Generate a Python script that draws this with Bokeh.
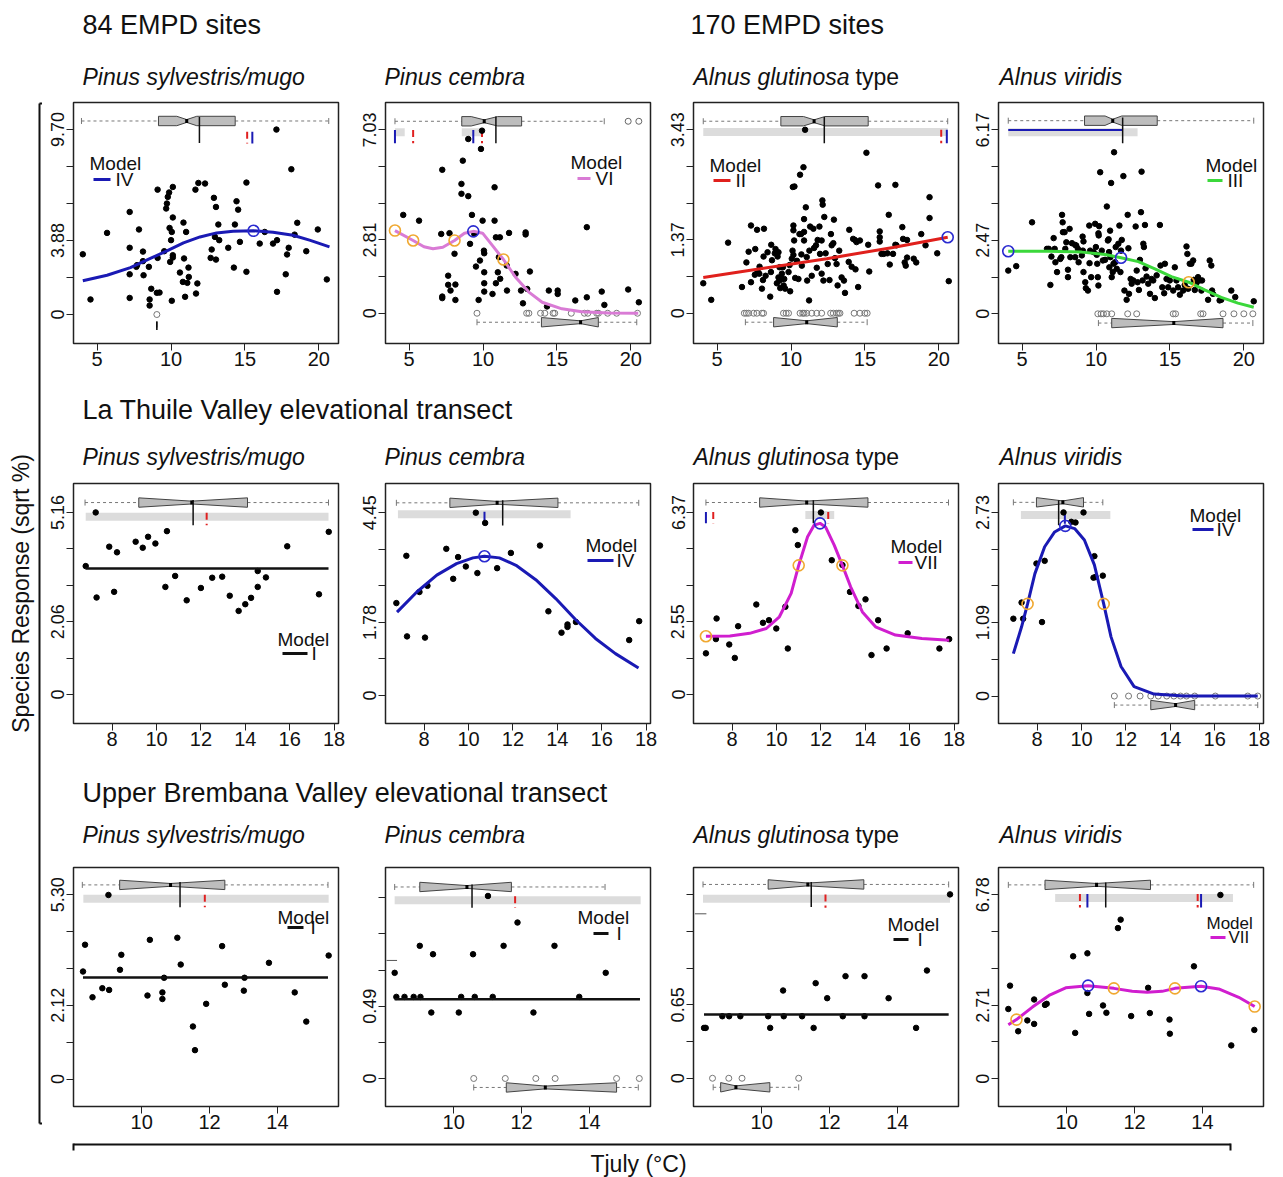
import math
from bokeh.plotting import figure
from bokeh.layouts import row, column
from bokeh.models import Range1d, FixedTicker
from bokeh.core.properties import value
from bokeh.embed import file_html
from bokeh.resources import INLINE

FONT = "Liberation Sans"

# ------------------------------------------------------------------ texts
SECTION_TITLES = ["84 EMPD sites", "170 EMPD sites",
                  "La Thuile Valley elevational transect",
                  "Upper Brembana Valley elevational transect"]
TAXA = ["Pinus sylvestris/mugo", "Pinus cembra", "Alnus glutinosa", "Alnus viridis"]
TAXON_SUFFIX = " type"
Y_TITLE = "Species Response (sqrt %)"
X_TITLE = "Tjuly (\u00b0C)"
MODELS = ["IV", "VI", "II", "III", "I", "IV", "VII", "IV", "I", "I", "I", "VII"]

# ------------------------------------------------------------------ axes
ROW_XRANGE = [(3.40, 21.33), (6.26, 18.20), (7.99, 15.80)]
ROW_XTICKS = [[5, 10, 15, 20], [8, 10, 12, 14, 16, 18], [10, 12, 14]]
Y_RANGES = [(-1.52, 11.12), (-1.16, 8.08), (-0.566, 3.94), (-0.996, 7.09),
            (-0.82, 5.98), (-0.68, 5.16), (-1.015, 7.385), (-0.408, 3.16),
            (-0.79, 6.08), (-0.19, 1.43), (-0.25, 1.866), (-1.02, 7.78)]
Y_TICKS = [[0, 1.94, 3.88, 5.82, 7.76, 9.70],
           [0, 1.405, 2.81, 4.215, 5.62, 7.03],
           [0, 0.686, 1.372, 2.058, 2.744, 3.43],
           [0, 1.234, 2.468, 3.702, 4.936, 6.17],
           [0, 1.032, 2.064, 3.096, 4.128, 5.16],
           [0, 0.89, 1.78, 2.67, 3.56, 4.45],
           [0, 1.274, 2.548, 3.822, 5.096, 6.37],
           [0, 0.546, 1.092, 1.638, 2.184, 2.73],
           [0, 1.06, 2.12, 3.18, 4.24, 5.30],
           [0, 0.245, 0.49, 0.735, 0.98, 1.225],
           [0, 0.325, 0.65, 0.975, 1.30, 1.625],
           [0, 1.356, 2.712, 4.068, 5.424, 6.78]]
Y_TICKLABELS = [["0", "", "3.88", "", "", "9.70"],
                ["0", "", "2.81", "", "", "7.03"],
                ["0", "", "1.37", "", "", "3.43"],
                ["0", "", "2.47", "", "", "6.17"],
                ["0", "", "2.06", "", "", "5.16"],
                ["0", "", "1.78", "", "", "4.45"],
                ["0", "", "2.55", "", "", "6.37"],
                ["0", "", "1.09", "", "", "2.73"],
                ["0", "", "2.12", "", "", "5.30"],
                ["0", "", "0.49", "", "", ""],
                ["0", "", "0.65", "", "", ""],
                ["0", "", "2.71", "", "", "6.78"]]

# ------------------------------------------------------------------ observations (Tjuly, sqrt %)
P1_PTS = [(4.03,3.16),(4.55,0.79),(5.67,4.28),(7.2,5.38),(7.2,3.5),(7.2,2.11),(7.2,0.87),(7.83,4.46),(7.7,2.59),(7.65,2.5),
          (8.1,3.3),(8.1,2.8),(8.14,2.06),(8.5,2.5),(8.55,0.79),(8.55,0.47),(8.66,1.35),(9.09,6.55),(9.09,2.97),(9.04,1.14),
          (9.22,1.15),(9.54,3.32),(9.67,5.56),(9.72,5.82),(9.78,6.17),(9.87,6.40),(9.9,4.54),(9.94,2.76),(10.0,3.9),(10.05,4.33),
          (10.12,6.69),(10.12,5.09),(10.12,3.11),(10.12,2.99),(10.05,0.72),(10.84,4.82),(10.88,2.94),(10.6,2.2),(10.8,1.71),(10.95,0.93),
          (11.02,4.33),(11.18,2.46),(11.2,1.97),(11.1,1.66),(11.65,6.55),(11.85,6.9),(11.78,1.63),(11.69,1.1),(12.3,6.87),(12.9,6.12),
          (13.04,5.64),(12.75,3.41),(12.68,2.97),(13.04,2.88),(12.97,4.07),(13.2,4.72),(13.26,3.9),(13.87,3.5),(14.25,2.46),(14.32,4.72),
          (14.43,5.94),(14.54,5.5),(14.66,3.81),(15.1,6.92),(15.1,2.24),(16.0,3.72),(16.34,4.33),(16.9,3.72),(17.13,9.70),(17.17,3.9),
          (17.17,1.19),(17.76,2.11),(17.85,3.15),(17.96,3.5),(18.14,7.62),(18.36,4.19),(18.54,4.81),(19.15,3.32),(19.93,4.46),(20.54,1.84)]
P1_ZEROS = [9.04]
P1_CURVE_X = [4.03, 5.67, 7.25, 8.6, 9.72, 10.84, 11.96, 13.08, 14.2, 15.58, 16.9, 18.25, 19.37, 20.72]
P1_CURVE_Y = [1.77, 2.06, 2.46, 2.94, 3.34, 3.76, 4.07, 4.28, 4.37, 4.39, 4.32, 4.16, 3.9, 3.55]

P2_PTS = [(4.6,3.77),(5.67,3.55),(7.17,3.04),(7.24,5.5),(7.24,0.64),(7.24,0.58),(7.64,1.44),(7.64,1.09),(7.8,0.87),(7.73,3.07),
          (8.07,2.28),(8.13,1.1),(8.13,0.51),(8.63,5.85),(8.54,4.96),(8.54,4.58),(9.0,4.49),(9.0,6.68),(9.12,2.66),(9.25,3.77),
          (9.41,3.04),(9.52,1.79),(9.7,0.51),(9.79,2.02),(9.86,6.3),(9.93,7.0),(9.97,3.55),(10.06,2.4),(10.08,2.3),(10.08,1.57),
          (10.08,1.15),(10.08,0.83),(10.64,0.74),(10.78,4.83),(10.78,3.55),(10.87,2.91),(10.87,1.15),(11.0,1.57),(11.07,2.15),(11.14,2.91),
          (11.16,1.32),(11.6,1.83),(11.76,3.08),(11.62,0.87),(12.2,1.51),(12.57,0.87),(12.7,0.38),(12.88,3.1),(12.88,3.02),(12.99,0.93),
          (13.17,1.6),(14.33,0.26),(14.45,0.87),(15.05,0.87),(15.05,0.74),(16.24,0.49),(17.02,3.3),(17.02,0.61),(18.03,0.83),(18.21,0.32),
          (19.82,0.91),(20.54,0.42)]
P2_ZEROS = [9.59, 12.95, 13.1, 13.89, 14.18, 14.74, 14.85, 15.97, 16.86, 17.09, 17.69, 17.81, 18.43, 19.04, 20.45]
P2_TOP_OUTLIERS = [19.82, 20.54]
P2_CURVE_X = [4.04, 5.27, 6.0, 6.61, 7.28, 8.07, 8.74, 9.34, 9.97, 10.64, 11.38, 12.2, 13.1, 14.0, 15.34, 16.68, 18.5, 20.5]
P2_CURVE_Y = [3.17, 2.79, 2.55, 2.47, 2.53, 2.79, 3.07, 3.14, 3.07, 2.59, 2.06, 1.38, 0.81, 0.42, 0.17, 0.06, 0.01, 0.0]

P3_PTS = [(4.06,0.56),(4.6,0.25),(5.74,1.32),(6.68,0.49),(6.98,0.95),(7.13,1.15),(7.29,0.58),(7.29,1.64),(7.58,1.2),(7.7,1.56),
          (7.74,0.78),(7.87,0.87),(7.85,0.74),(8.03,0.46),(8.14,1.06),(8.17,1.58),(8.28,0.7),(8.41,1.14),(8.59,0.31),(8.64,0.77),
          (8.66,1.28),(8.71,0.99),(9.04,0.56),(9.09,1.06),(9.15,1.14),(9.22,0.86),(9.15,0.67),(9.22,0.61),(9.27,0.47),(9.33,0.64),
          (9.38,0.74),(9.45,0.86),(9.6,0.46),(9.54,0.64),(9.83,0.77),(9.9,0.9),(9.94,0.41),(10.05,1.02),(10.1,1.17),(10.16,1.09),
          (10.12,2.36),(10.23,2.37),(10.28,0.66),(10.16,1.64),(10.16,1.55),(10.21,1.36),(10.5,0.64),(10.57,1.48),(10.61,2.59),(10.68,1.48),
          (10.73,0.89),(10.84,2.73),(10.88,1.36),(10.88,1.76),(10.88,1.52),(11.0,1.98),(11.06,1.05),(11.09,0.61),(10.95,3.43),(11.22,0.24),
          (11.24,1.17),(11.29,1.62),(11.51,1.58),(11.56,1.22),(11.69,1.27),(11.74,0.85),(11.8,1.37),(11.92,1.62),(11.96,1.11),(12.07,1.36),
          (12.12,2.11),(12.14,2.03),(12.07,0.74),(12.19,0.61),(12.25,1.8),(12.34,1.12),(12.48,0.92),(12.7,1.48),(12.75,1.27),(12.86,1.31),
          (12.9,1.75),(12.97,1.03),(13.08,0.92),(13.15,0.52),(13.26,1.17),(13.42,0.67),(13.58,0.61),(13.65,0.38),(13.94,1.56),(14.1,0.87),
          (14.2,1.39),(14.32,1.37),(14.36,0.82),(14.43,1.33),(14.54,0.49),(14.66,1.36),(15.1,3.0),(15.22,1.28),(15.29,0.78),(15.89,2.39),
          (16.0,1.53),(16.0,1.42),(16.0,1.34),(16.12,1.11),(16.27,1.11),(16.52,1.12),(16.61,1.84),(16.68,0.91),(16.9,1.11),(17.06,2.4),
          (17.06,1.28),(17.13,1.27),(17.53,1.61),(17.58,1.39),(17.69,0.95),(17.76,0.89),(17.85,1.37),(17.85,1.04),(18.3,1.02),(18.47,0.95),
          (18.81,1.48),(19.1,1.27),(19.37,2.17),(19.37,1.78),(19.89,1.12),(20.67,0.6),(8.9,1.12),(8.95,1.2),(7.55,0.72),(9.5,0.52),
          (10.4,0.98),(11.4,0.7),(12.6,0.62),(13.9,0.96),(8.1,0.62),(10.7,1.1)]
P3_ZEROS = [6.84, 6.98, 7.13, 7.47, 7.69, 8.03, 8.14, 9.49, 9.67, 9.83, 10.61, 10.79, 10.88, 11.06, 11.4, 11.74,
            12.07, 12.68, 12.86, 13.08, 13.2, 13.31, 14.27, 14.66, 14.99, 15.15]
P3_CURVE_X = [4.06, 7.92, 12.41, 16.9, 20.6]
P3_CURVE_Y = [0.67, 0.83, 1.02, 1.23, 1.42]

P4_PTS = [(4.06,1.45),(4.6,1.6),(5.67,3.07),(6.68,2.18),(6.8,2.18),(6.91,0.97),(6.98,1.92),(7.13,2.54),(7.2,2.18),(7.25,1.73),
          (7.36,1.4),(7.58,1.84),(7.65,1.9),(7.7,3.32),(7.74,3.07),(7.76,2.74),(7.87,2.74),(7.92,2.18),(7.99,2.4),(8.1,1.23),
          (8.1,1.48),(8.21,2.85),(8.26,1.9),(8.37,2.37),(8.59,2.31),(8.59,1.9),(8.66,2.29),(8.77,2.18),(8.82,1.73),(9.04,1.96),
          (9.09,2.59),(9.11,2.12),(9.15,2.43),(9.15,1.4),(9.27,1.06),(9.31,0.86),(9.45,0.78),(9.54,2.96),(9.56,1.7),(9.6,2.12),
          (9.67,1.23),(9.83,2.07),(9.94,3.02),(9.99,2.24),(10.05,1.98),(10.08,1.68),(10.12,1.23),(10.16,0.95),(10.16,2.7),(10.18,2.63),
          (10.21,2.94),(10.28,4.75),(10.39,2.12),(10.46,1.79),(10.61,1.81),(10.73,3.6),(10.8,2.46),(10.85,2.5),(10.88,2.07),(10.9,1.56),
          (10.95,2.79),(10.97,1.9),(11.02,4.39),(11.06,1.23),(11.13,1.4),(11.18,1.68),(11.22,5.42),(11.29,1.73),(11.33,2.24),(11.4,1.51),
          (11.51,2.35),(11.58,2.96),(11.65,1.4),(11.69,2.12),(11.74,2.48),(11.85,4.62),(11.92,0.78),(12.07,0.47),(12.14,3.32),(12.19,2.2),
          (12.23,0.67),(12.34,1.17),(12.41,1.01),(12.52,1.12),(12.68,2.93),(12.75,1.45),(12.81,1.06),(12.9,0.8),(12.97,1.81),(13.04,3.41),
          (13.08,4.77),(13.15,1.12),(13.2,2.35),(13.24,2.24),(13.31,2.98),(13.35,1.53),(13.42,1.25),(13.53,1.01),(13.65,0.67),(13.76,1.17),
          (13.87,1.12),(13.98,0.53),(14.1,1.29),(14.32,2.98),(14.36,1.62),(14.48,0.89),(14.61,0.69),(14.66,1.68),(14.77,1.17),(14.88,0.89),
          (14.99,1.12),(15.22,0.78),(15.33,1.56),(15.44,1.12),(15.55,0.89),(15.67,0.64),(15.89,0.78),(16.0,0.97),(16.12,2.26),(16.18,2.01),
          (16.23,0.84),(16.34,1.68),(16.45,1.68),(16.57,1.79),(16.61,1.14),(16.68,0.8),(16.79,1.03),(16.9,1.23),(17.01,1.12),(17.13,0.78),
          (17.17,1.12),(17.58,0.47),(17.69,1.79),(17.8,1.62),(17.85,0.78),(17.91,0.67),(18.36,0.45),(18.47,0.47),(19.15,0.78),(19.42,0.56),
          (20.67,0.42)]
P4_ZEROS = [10.12, 10.34, 10.5, 10.73, 11.06, 12.14, 12.75, 15.22, 15.38, 17.08, 17.24, 18.59, 19.33, 20.0, 20.61]
P4_CURVE_X = [4.06, 6.8, 9.04, 10.61, 11.69, 12.86, 13.98, 15.1, 16.27, 17.35, 18.47, 19.6, 20.67]
P4_CURVE_Y = [2.1, 2.1, 2.07, 1.99, 1.88, 1.75, 1.51, 1.25, 1.06, 0.8, 0.55, 0.36, 0.22]

P5_PTS = [(6.81,3.64),(7.26,5.16),(7.3,2.75),(7.87,4.19),(8.09,2.91),(8.22,4.03),(9.06,4.33),(9.38,4.16),(9.62,4.47),(9.95,4.28),
          (10.4,3.05),(10.47,4.63),(10.84,3.36),(11.36,2.67),(12.0,3.02),(12.51,3.31),(12.96,3.34),(13.3,2.8),(13.7,2.37),(14.0,2.56),
          (14.26,2.74),(14.56,3.05),(14.56,3.5),(14.93,3.32),(15.89,4.2),(17.32,2.84),(17.76,4.61)]
P5_CURVE_X = [6.81, 17.75]
P5_CURVE_Y = [3.57, 3.57]

P6_PTS = [(6.75,2.25),(7.2,3.4),(7.23,1.44),(7.79,2.52),(8.15,2.67),(8.04,1.41),(9.0,3.57),(9.31,2.84),(9.53,3.37),(9.88,3.14),
          (10.4,2.98),(10.33,4.45),(10.75,4.2),(11.29,3.1),(11.91,3.47),(13.22,3.65),(13.6,2.05),(14.19,1.53),(14.46,1.67),(14.46,1.73),
          (14.84,1.79),(17.24,1.35),(17.69,1.81)]
P6_CURVE_X = [6.78, 7.67, 8.57, 9.46, 10.2, 10.72, 11.39, 12.14, 13.03, 13.93, 14.82, 15.72, 16.62, 17.66]
P6_CURVE_Y = [2.03, 2.52, 2.93, 3.21, 3.35, 3.39, 3.35, 3.17, 2.82, 2.36, 1.85, 1.39, 1.02, 0.67]

P7_PTS = [(6.82,1.44),(7.27,1.94),(7.3,2.66),(7.87,1.75),(8.12,1.28),(8.27,2.39),(9.09,3.15),(9.39,2.51),(9.66,2.6),(9.99,2.31),
          (10.4,3.07),(10.51,1.61),(10.85,5.75),(10.96,5.23),(12.0,6.37),(12.49,4.7),(12.97,4.53),(13.31,3.59),(13.69,3.1),(14.01,3.33),
          (14.28,1.38),(14.58,2.6),(14.96,1.61),(15.91,2.14),(17.34,1.61),(17.78,1.94)]
P7_CURVE_X = [6.82, 7.9, 8.79, 9.54, 10.13, 10.66, 11.0, 11.4, 11.7, 11.96, 12.22, 12.6, 12.97, 13.34, 13.87, 14.46, 15.36, 16.55, 17.78]
P7_CURVE_Y = [2.04, 2.05, 2.14, 2.31, 2.72, 3.54, 4.52, 5.52, 5.93, 5.99, 5.85, 5.23, 4.52, 3.77, 2.89, 2.37, 2.08, 1.96, 1.9]

P8_PTS = [(6.93,1.15),(7.3,1.39),(7.37,1.15),(7.97,1.97),(8.22,1.1),(8.34,2.01),(9.19,2.73),(9.54,2.59),(9.73,2.58),(10.09,2.73),
          (10.58,2.08),(10.54,1.76),(10.63,1.77),(10.96,1.79)]
P8_ZEROS = [11.48, 12.12, 12.64, 13.12, 13.46, 13.84, 14.16, 14.46, 14.73, 15.1, 16.03, 17.49, 17.94]
P8_CURVE_X = [6.93, 7.3, 7.57, 7.9, 8.34, 8.79, 9.27, 9.69, 10.13, 10.58, 11.0, 11.33, 11.78, 12.37, 13.27, 14.61, 17.94]
P8_CURVE_Y = [0.63, 1.03, 1.37, 1.82, 2.22, 2.44, 2.53, 2.49, 2.32, 1.95, 1.37, 0.88, 0.44, 0.14, 0.03, 0.0, 0.0]

P9_PTS = [(8.27,3.09),(8.33,3.86),(8.55,2.35),(8.84,2.61),(9.02,5.29),(9.04,2.56),(9.36,3.14),(9.4,3.57),(10.17,2.4),(10.24,4.0),
          (10.61,2.49),(10.61,2.3),(10.66,2.91),(11.05,4.06),(11.15,3.29),(11.51,1.51),(11.57,0.83),(11.9,2.16),(12.37,3.82),(12.45,2.71),
          (13.01,2.54),(13.03,2.91),(13.75,3.34),(14.51,2.49),(14.85,1.65),(15.51,3.55)]
P9_CURVE_X = [8.27, 15.49]
P9_CURVE_Y = [2.92, 2.92]

P10_PTS = [(8.26,0.716),(8.31,0.553),(8.55,0.553),(8.82,0.553),(9.02,0.553),(9.0,0.899),(9.39,0.842),(9.34,0.447),(10.15,0.447),(10.22,0.553),
           (10.57,0.842),(10.62,0.553),(11.01,1.237),(11.15,0.553),(11.47,0.899),(11.88,1.057),(12.35,0.447),(12.97,0.899),(13.7,0.553),(14.48,0.716)]
P10_ZEROS = [10.59, 11.52, 12.42, 12.99, 14.8, 15.47]
P10_CURVE_X = [8.26, 15.49]
P10_CURVE_Y = [0.537, 0.537]

P11_PTS = [(8.3,0.446),(8.35,0.446),(8.84,0.549),(9.04,0.549),(9.37,0.549),(10.19,0.549),(10.25,0.446),(10.63,0.777),(10.65,0.549),(11.19,0.549),
           (11.53,0.446),(11.59,0.842),(11.93,0.709),(12.39,0.549),(12.47,0.904),(13.03,0.904),(13.03,0.549),(13.74,0.709),(14.55,0.446),(14.87,0.954),
           (15.55,1.628)]
P11_ZEROS = [8.55, 9.03, 9.42, 11.09]
P11_CURVE_X = [8.3, 15.51]
P11_CURVE_Y = [0.564, 0.564]

P12_PTS = [(8.28,2.57),(8.33,3.43),(8.57,1.75),(8.84,2.15),(9.04,2.92),(9.04,2.02),(9.36,2.72),(9.41,2.76),(10.19,4.51),(10.25,1.69),
           (10.61,4.62),(10.61,3.16),(10.66,2.39),(11.07,2.7),(11.17,2.43),(11.51,5.55),(11.59,5.86),(11.9,2.31),(12.4,3.35),(12.45,2.42),
           (13.03,2.18),(13.04,1.66),(13.75,4.14),(14.53,6.77),(14.85,1.23),(15.53,1.8)]
P12_CURVE_X = [8.28, 8.52, 8.99, 9.48, 9.97, 10.63, 11.39, 11.93, 12.37, 12.81, 13.19, 13.96, 14.48, 15.07, 15.54]
P12_CURVE_Y = [1.99, 2.18, 2.64, 3.07, 3.35, 3.43, 3.33, 3.22, 3.19, 3.22, 3.33, 3.41, 3.31, 3.0, 2.66]

# boxplots of Tjuly at presence (top) / absence (bottom) sites:
# [lower whisker, Q1, notch low, median, notch high, Q3, upper whisker], level on y axis
TOP_BOX = [[3.94, 9.15, 10.39, 11.06, 11.74, 14.34, 20.67],
           [4.04, 8.56, 9.20, 10.08, 10.98, 12.61, 18.20],
           [4.06, 9.31, 10.84, 11.56, 12.30, 15.22, 20.60],
           [4.06, 9.22, 10.61, 11.13, 11.74, 14.14, 20.67],
           [6.78, 9.20, 9.20, 11.59, 14.10, 14.10, 17.75],
           [6.75, 9.16, 9.16, 11.29, 14.03, 14.03, 17.67],
           [6.82, 9.24, 9.24, 11.36, 14.12, 14.12, 17.75],
           [6.93, 7.97, 7.97, 9.16, 10.09, 10.09, 10.96],
           [8.25, 9.35, 9.35, 10.85, 12.45, 12.45, 15.49],
           [8.26, 9.00, 9.00, 10.39, 11.70, 11.70, 14.46],
           [8.27, 10.19, 10.19, 11.36, 13.01, 13.01, 15.51],
           [8.28, 9.36, 9.36, 10.88, 12.47, 12.47, 15.51]]
TOP_BOX_Y = [10.15, 7.36, 3.59, 6.48, 5.44, 4.69, 6.72, 2.88, 5.58, 1.298, 1.716, 7.14]
BOT_BOX = {0: [9.04, 9.04, 9.04, 9.04, 9.04, 9.04, 9.04],
           1: [9.59, 13.95, 13.95, 16.60, 17.80, 17.80, 20.40],
           2: [6.91, 8.82, 8.82, 11.06, 13.13, 13.13, 15.15],
           3: [10.16, 11.06, 11.06, 15.26, 18.59, 18.59, 20.61],
           7: [11.48, 13.12, 13.12, 14.24, 15.10, 15.10, 17.94],
           9: [10.59, 11.55, 11.55, 12.70, 14.80, 14.80, 15.44],
           10: [8.57, 8.79, 8.79, 9.24, 10.24, 10.24, 11.09]}
BOT_BOX_Y = {0: -0.52, 1: -0.345, 2: -0.168, 3: -0.31, 7: -0.134, 9: -0.061, 10: -0.08}

# optimum line [x, y from, y to]
OPT_LINE = [[11.92, 10.36, 9.0], [10.87, 7.54, 6.52], [12.25, 3.67, 3.18], [11.8, 6.59, 5.72],
            [11.65, 5.51, 4.8], [11.54, 4.75, 4.14], [11.66, 6.8, 5.99], [8.97, 2.91, 2.54],
            [11.13, 5.66, 4.94], [10.54, 1.314, 1.158], [11.46, 1.737, 1.516], [11.15, 7.23, 6.31]]
# light grey bootstrap ranges [x from, x to, y]
BANDS = [[], [[4.04, 4.7, 6.94], [8.56, 9.86, 6.94]], [[4.06, 20.6, 3.39]], [[4.06, 12.81, 6.09]],
         [[6.81, 17.75, 5.04]], [[6.82, 14.6, 4.41]], [[11.3, 12.6, 6.28]], [[7.27, 11.3, 2.69]],
         [[8.28, 15.51, 5.18]], [[8.26, 15.51, 1.208]], [[8.27, 15.55, 1.59]], [[9.66, 14.9, 6.66]]]
# red (bootstrap) / blue (model) optimum ticks: x list, y from, y to
RED_TICKS = [[15.15], [5.27, 9.93], [20.16], [], [12.26], [], [7.15, 12.33], [], [11.86], [11.81], [11.88], [10.39, 13.86]]
BLUE_TICKS = [[15.5], [4.04, 9.34], [20.54], [], [], [10.72], [6.82], [9.25], [], [], [], [10.61, 13.96]]
TICK_SPAN = [(9.58, 8.97), (7.03, 6.52), (3.43, 3.18), (0, 0), (5.15, 4.8), (4.47, 4.26), (6.39, 5.99),
             (2.72, 2.56), (5.3, 4.94), (1.235, 1.158), (1.628, 1.51), (6.8, 6.31)]
P4_BLUE_RANGE = [4.06, 11.8, 6.17]
# fitted optima (blue) and inflection points (orange)
BLUE_PTS = [[(15.58, 4.39)], [(9.34, 3.14)], [(20.6, 1.42)], [(4.06, 2.1), (11.69, 1.88)], [], [(10.72, 3.39)],
            [(11.96, 5.99)], [(9.27, 2.53)], [], [], [], [(10.63, 3.43), (13.96, 3.41)]]
ORANGE_PTS = [[], [(4.04, 3.17), (5.27, 2.79), (8.07, 2.79), (11.38, 2.06)], [], [(16.27, 1.06)], [], [],
              [(6.82, 2.04), (11.0, 4.52), (12.97, 4.52)], [(7.57, 1.37), (11.0, 1.37)], [], [], [],
              [(8.52, 2.18), (11.39, 3.33), (13.19, 3.33), (15.54, 2.66)]]

PTS = [P1_PTS, P2_PTS, P3_PTS, P4_PTS, P5_PTS, P6_PTS, P7_PTS, P8_PTS, P9_PTS, P10_PTS, P11_PTS, P12_PTS]
ZEROS = {0: P1_ZEROS, 1: P2_ZEROS, 2: P3_ZEROS, 3: P4_ZEROS, 7: P8_ZEROS, 9: P10_ZEROS, 10: P11_ZEROS}
CURVES = [(P1_CURVE_X, P1_CURVE_Y), (P2_CURVE_X, P2_CURVE_Y), (P3_CURVE_X, P3_CURVE_Y), (P4_CURVE_X, P4_CURVE_Y),
          (P5_CURVE_X, P5_CURVE_Y), (P6_CURVE_X, P6_CURVE_Y), (P7_CURVE_X, P7_CURVE_Y), (P8_CURVE_X, P8_CURVE_Y),
          (P9_CURVE_X, P9_CURVE_Y), (P10_CURVE_X, P10_CURVE_Y), (P11_CURVE_X, P11_CURVE_Y), (P12_CURVE_X, P12_CURVE_Y)]

# ------------------------------------------------------------------ styles / layout
BLUE, ORCHID, RED, GREEN, MAGENTA, BLACK = "#1a1ab4", "#d97bd5", "#e0201c", "#3bd83b", "#d01ecf", "#111111"
MODEL_COLORS = [BLUE, ORCHID, RED, GREEN, BLACK, BLUE, MAGENTA, BLUE, BLACK, BLACK, BLACK, MAGENTA]
# legend offsets in pixels from frame top-left: Model text (dx, dy), line (dx0, dx1, dy), label dx
LEGEND_PX = [(16, 61, 20, 37, 77, 42), (185, 60, 192, 205, 76, 210), (16, 63, 20, 37, 78, 42),
             (207, 63, 209, 224, 78, 229), (204, 156, 209, 234, 170, 238), (200, 62, 202, 228, 77, 231),
             (197, 63, 205, 219, 79, 221), (191, 32, 194, 215, 46, 218), (204, 50, 214, 230, 60, 237),
             (192, 50, 208, 223, 66, 231), (194, 57, 200, 215, 72, 224), (208, 56, 212, 227, 70, 230)]

W, H = 1283, 1177
LW = 42
COL_W = [308, 310, 308, 315]
COL_BL = [31, 35, 33, 30]
COL_BR = [12, 10, 10, 20]
FW = 265
ROW_FH = [241, 240, 239]
ROW_BT = [5, 6, 6]
ROW_BB = [40, 40, 36]
STRIP_H = [97, 94, 98, 35]
BODY_W = W - LW


def make_panel(i):
    r, c = divmod(i, 4)
    x0, x1 = ROW_XRANGE[r]
    y0, y1 = Y_RANGES[i]
    fh = ROW_FH[r]
    p = figure(width=COL_W[c], height=ROW_BT[r] + fh + ROW_BB[r],
               x_range=Range1d(x0, x1), y_range=Range1d(y0, y1),
               min_border_left=COL_BL[c], min_border_right=COL_BR[c],
               min_border_top=ROW_BT[r], min_border_bottom=ROW_BB[r],
               toolbar_location=None, output_backend="svg")
    p.grid.visible = False
    p.outline_line_color = "#222222"
    p.outline_line_width = 1.5
    p.background_fill_color = "white"
    p.border_fill_color = "white"
    for ax in (p.xaxis[0], p.yaxis[0]):
        ax.axis_line_color = "#222222"
        ax.major_tick_line_color = "#222222"
        ax.major_tick_out = 7
        ax.major_tick_in = 0
        ax.minor_tick_line_color = None
        ax.major_label_text_font = FONT
        ax.major_label_text_color = "#111111"
    p.xaxis.ticker = FixedTicker(ticks=ROW_XTICKS[r])
    p.xaxis.major_label_text_font_size = "20px"
    p.xaxis.major_label_standoff = 1
    p.yaxis.ticker = FixedTicker(ticks=Y_TICKS[i])
    p.yaxis.major_label_overrides = {t: lab for t, lab in zip(Y_TICKS[i], Y_TICKLABELS[i])}
    p.yaxis.major_label_orientation = "vertical"
    p.yaxis.major_label_text_font_size = "18px"
    p.yaxis.major_label_standoff = 2

    ux = (x1 - x0) / FW
    uy = (y1 - y0) / fh
    hh = 4.7 * uy

    # grey bands
    for b in BANDS[i]:
        p.segment(x0=[b[0]], y0=[b[2]], x1=[b[1]], y1=[b[2]], line_color="#dcdcdc", line_width=8)
    if i == 3:
        b = P4_BLUE_RANGE
        p.segment(x0=[b[0]], y0=[b[2]], x1=[b[1]], y1=[b[2]], line_color=BLUE, line_width=2)

    def draw_box(st, yc):
        lo, q1, nlo, med, nhi, q3, hi = st
        cap = 3 * uy
        p.segment(x0=[lo, q3], y0=[yc, yc], x1=[q1, hi], y1=[yc, yc],
                  line_color="#777777", line_width=1, line_dash="3 3")
        p.segment(x0=[lo, hi], y0=[yc - cap, yc - cap], x1=[lo, hi], y1=[yc + cap, yc + cap],
                  line_color="#777777", line_width=1)
        if q3 > q1:
            pinch = hh * 0.3
            xs = [q1, nlo, med, nhi, q3, q3, nhi, med, nlo, q1]
            ys = [yc - hh, yc - hh, yc - pinch, yc - hh, yc - hh, yc + hh, yc + hh, yc + pinch, yc + hh, yc + hh]
            p.patch(xs, ys, fill_color="#bdbdbd", line_color="#444444", line_width=1)
            p.segment(x0=[med], y0=[yc - pinch - 0.6 * uy], x1=[med], y1=[yc + pinch + 0.6 * uy],
                      line_color="black", line_width=3)
        else:
            p.segment(x0=[med], y0=[yc - 1.2 * hh], x1=[med], y1=[yc + 0.6 * hh],
                      line_color="black", line_width=1.5)

    draw_box(TOP_BOX[i], TOP_BOX_Y[i])
    if i in BOT_BOX:
        draw_box(BOT_BOX[i], BOT_BOX_Y[i])
    if i == 1:
        p.scatter(P2_TOP_OUTLIERS, [TOP_BOX_Y[i]] * len(P2_TOP_OUTLIERS), size=6,
                  fill_color=None, line_color="#666666", line_width=1)
    # optimum line
    o = OPT_LINE[i]
    p.segment(x0=[o[0]], y0=[o[1]], x1=[o[0]], y1=[o[2]], line_color="#111111", line_width=1.5)
    ya, yb = TICK_SPAN[i]
    if RED_TICKS[i]:
        n = len(RED_TICKS[i])
        p.segment(x0=RED_TICKS[i], y0=[ya] * n, x1=RED_TICKS[i], y1=[yb] * n,
                  line_color="#e02020", line_width=2, line_dash="7 4")
    if BLUE_TICKS[i]:
        n = len(BLUE_TICKS[i])
        p.segment(x0=BLUE_TICKS[i], y0=[ya] * n, x1=BLUE_TICKS[i], y1=[yb] * n,
                  line_color=BLUE, line_width=2)
    if i == 9:
        p.segment(x0=[8.02], y0=[0.8], x1=[8.33], y1=[0.8], line_color="#555555", line_width=1)
    if i == 10:
        p.segment(x0=[8.03], y0=[1.456], x1=[8.37], y1=[1.456], line_color="#555555", line_width=1)

    # zero observations
    if i in ZEROS:
        z = ZEROS[i]
        p.scatter(z, [0] * len(z), size=6, fill_color=None, line_color="#777777", line_width=1)
    # observations
    xs = [a for a, b in PTS[i]]
    ys = [b for a, b in PTS[i]]
    p.scatter(xs, ys, size=5.5, fill_color="black", line_color="black")
    # fitted response
    cx, cy = CURVES[i]
    col = MODEL_COLORS[i]
    lw = 2.5 if col == BLACK else 3
    p.line(cx, cy, line_color=col, line_width=lw)
    if ORANGE_PTS[i]:
        p.scatter([a for a, b in ORANGE_PTS[i]], [b for a, b in ORANGE_PTS[i]], size=11,
                  fill_color=None, line_color="#f0a830", line_width=1.6)
    if BLUE_PTS[i]:
        p.scatter([a for a, b in BLUE_PTS[i]], [b for a, b in BLUE_PTS[i]], size=11,
                  fill_color=None, line_color="#2a2ad0", line_width=1.6)

    # legend
    tdx, tdy, l0, l1, ldy, ldx = LEGEND_PX[i]
    fs = "17px" if i == 11 else "19px"
    p.text(x=[x0 + tdx * ux], y=[y1 - tdy * uy], text=["Model"], text_font=value(FONT),
           text_font_size=fs, text_align="left", text_baseline="middle", text_color="#111111")
    p.segment(x0=[x0 + l0 * ux], y0=[y1 - ldy * uy], x1=[x0 + l1 * ux], y1=[y1 - ldy * uy],
              line_color=col, line_width=3)
    p.text(x=[x0 + ldx * ux], y=[y1 - ldy * uy], text=[MODELS[i]], text_font=value(FONT),
           text_font_size=fs, text_align="left", text_baseline="middle", text_color="#111111")
    return p


def make_strip(w, h, items, segs=()):
    s = figure(width=w, height=h, x_range=Range1d(0, w), y_range=Range1d(0, h),
               min_border=0, toolbar_location=None, output_backend="svg",
               x_axis_type=None, y_axis_type=None)
    s.outline_line_color = None
    s.grid.visible = False
    s.background_fill_color = "white"
    s.border_fill_color = "white"
    for (x, ytop, txt, size, style, align, angle) in items:
        s.text(x=[x], y=[h - ytop], text=[txt], text_font=value(FONT), text_font_size=size,
               text_font_style=value(style), text_align=align, text_baseline="middle",
               angle=angle, text_color="#111111")
    for (xa, ya, xb, yb, lw) in segs:
        s.segment(x0=[xa], y0=[h - ya], x1=[xb], y1=[h - yb], line_color="#111111", line_width=lw)
    return s


TITLE_X = [82, 384, 693, 999]
TYPE_X = 855


def taxa_items(ytop):
    its = []
    for k in range(4):
        its.append((TITLE_X[k] - LW, ytop, TAXA[k], "23px", "italic", "left", 0))
    its.append((TYPE_X - LW, ytop, TAXON_SUFFIX.strip(), "23px", "normal", "left", 0))
    return its


strip_a = make_strip(BODY_W, STRIP_H[0],
                     [(82 - LW, 24, SECTION_TITLES[0], "27px", "normal", "left", 0),
                      (690 - LW, 24, SECTION_TITLES[1], "27px", "normal", "left", 0)] + taxa_items(76))
strip_b = make_strip(BODY_W, STRIP_H[1],
                     [(82 - LW, 26, SECTION_TITLES[2], "27px", "normal", "left", 0)] + taxa_items(73))
strip_c = make_strip(BODY_W, STRIP_H[2],
                     [(82 - LW, 29, SECTION_TITLES[3], "27px", "normal", "left", 0)] + taxa_items(71))
strip_d = make_strip(BODY_W, STRIP_H[3],
                     [(638 - LW, 21, X_TITLE, "23px", "normal", "center", 0)],
                     [(73 - LW, 2, 1230 - LW, 2, 2), (73 - LW, 1, 73 - LW, 8, 2), (1230 - LW, 1, 1230 - LW, 8, 2)])

left = make_strip(LW, H, [(20, 593, Y_TITLE, "23px", "normal", "center", math.pi / 2)],
                  [(39, 103, 39, 1123, 2), (39, 103, 42, 103, 2), (39, 1123, 42, 1123, 2)])

panels = [make_panel(i) for i in range(12)]
body = column(strip_a, row(*panels[0:4]), strip_b, row(*panels[4:8]), strip_c, row(*panels[8:12]), strip_d)
layout = row(left, body)

open("out.html", "w").write(file_html(layout, INLINE, title="Species response to July temperature"))
